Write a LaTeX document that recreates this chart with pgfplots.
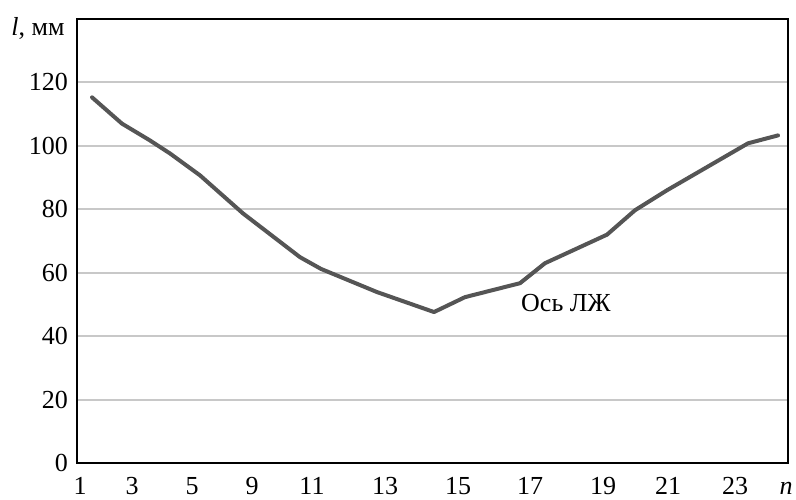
\documentclass[border=0pt]{standalone}
\usepackage{fontspec}
\setmainfont{Liberation Serif}
\usepackage{pgfplots}
\pgfplotsset{compat=1.18}
\definecolor{gridc}{HTML}{C8C8C8}
\definecolor{linec}{HTML}{555555}
\newcommand{\fs}{\fontsize{13}{15}\selectfont}
\begin{document}
\fs
\begin{tikzpicture}
\useasboundingbox (-38.5pt,-18pt) rectangle (359.5pt,231.5pt);
\begin{axis}[
  scale only axis,
  width=355.5pt, height=222pt,
  at={(0,0)}, anchor=south west,
  xmin=77, xmax=788,
  ymin=0, ymax=140,
  xtick={80,132,192,252,312,385,458,530,603,668,735},
  xticklabels={1,3,5,9,11,13,15,17,19,21,23},
  ytick={0,20,40,60,80,100,120},
  major tick length=0pt,
  ymajorgrids,
  grid style={gridc, line width=1pt},
  axis line style={black, line width=0.9pt},
  tick label style={font=\fs},
  xticklabel style={yshift=-2.8pt},
  /pgf/number format/assume math mode=true,
  xlabel={\textit{n}},
  every axis x label/.style={at={(axis cs:786,0)}, anchor=base, inner sep=0pt, yshift=-15.6pt, font=\fs},
  ylabel={\textit{l}, мм},
  every axis y label/.style={at={(rel axis cs:0,1)}, anchor=east, inner sep=0pt, xshift=-6pt, yshift=-4.5pt, font=\fs},
  clip=false,
]
\addplot[linec, line width=2pt, line join=round, line cap=round] coordinates {
  (92,115.3) (122,107) (150,101.7) (170,97.6) (200,90.7) (243,78.7)
  (300,64.9) (321,61.2) (377,53.9) (434,47.6) (465,52.3) (520,56.7)
  (545,63) (607,72) (635,79.7) (667,86) (748,100.8) (778,103.3)
};
\node[font=\fs] at (axis cs:566,50.4) {Ось ЛЖ};
\end{axis}
\end{tikzpicture}
\end{document}
